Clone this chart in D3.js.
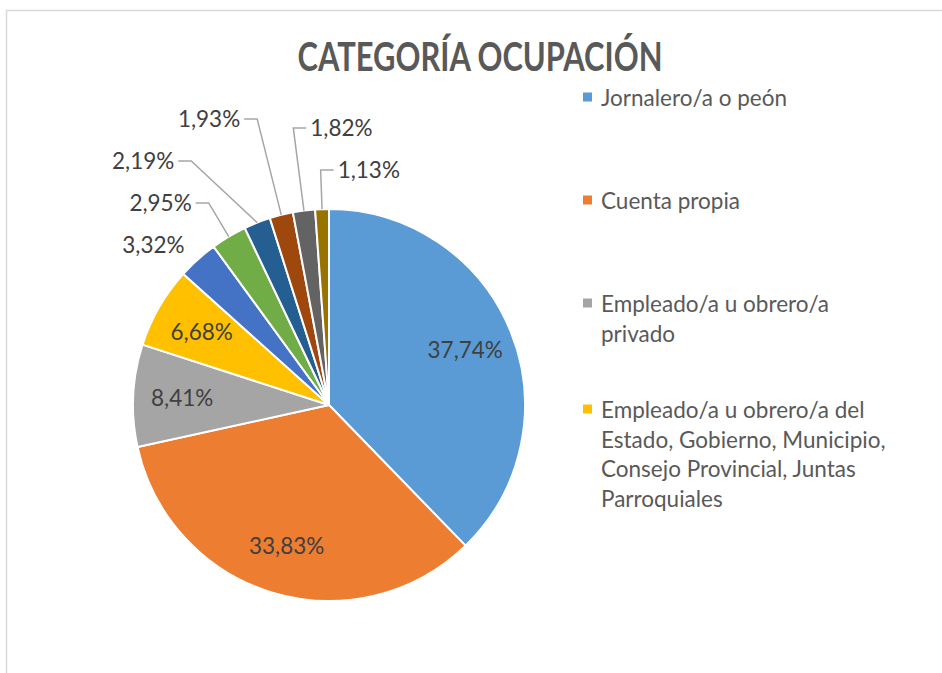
<!DOCTYPE html>
<html>
<head>
<meta charset="utf-8">
<script src="https://cdn.jsdelivr.net/npm/d3@7"></script>
<style>
  body { margin: 0; background: #fff; }
  svg { display: block; }
</style>
</head>
<body>
<div id="chart"></div>
<script>
// Datos
const title = "CATEGORÍA OCUPACIÓN";
const categories = [
  "Jornalero/a o peón",
  "Cuenta propia",
  "Empleado/a u obrero/a privado",
  "Empleado/a u obrero/a del Estado, Gobierno, Municipio, Consejo Provincial, Juntas Parroquiales",
  "Patrono/a",
  "Trabajador/a no remunerado",
  "Empleado/a doméstico/a",
  "Socio/a",
  "Se ignora",
  "No declarado"
];
const values = [37.74, 33.83, 8.41, 6.68, 3.32, 2.95, 2.19, 1.93, 1.82, 1.13];
const colors = ["#5B9BD5", "#ED7D31", "#A5A5A5", "#FFC000", "#4472C4",
                "#70AD47", "#255E91", "#9E480E", "#636363", "#997300"];
const legendCount = 4; // Excel solo muestra las primeras 4 entradas

const width = 942;
const height = 673;
const cx = 329, cy = 405, radius = 196;
const font = "Lato, 'Open Sans', sans-serif";
const fontSize = 22.5;

const svg = d3.select("#chart")
  .append("svg")
  .attr("width", width)
  .attr("height", height);

// marco del gráfico
svg.append("rect")
  .attr("x", 6.5).attr("y", 10.5)
  .attr("width", 1200).attr("height", 1200)
  .attr("fill", "#fff")
  .attr("stroke", "#d9d9d9")
  .attr("stroke-width", 1.5);

// título
svg.append("text")
  .attr("x", 480).attr("y", 71)
  .attr("text-anchor", "middle")
  .attr("font-family", "'Liberation Sans Narrow', Lato, sans-serif")
  .attr("font-weight", "bold")
  .attr("font-size", 41)
  .attr("fill", "#595959")
  .attr("textLength", 365)
  .attr("lengthAdjust", "spacingAndGlyphs")
  .text(title);

const locale = d3.formatLocale({ decimal: ",", thousands: ".", grouping: [3], currency: ["", ""] });
const fmt = v => locale.format(".2f")(v) + "%";

const color = d3.scaleOrdinal().domain(categories).range(colors);

const pie = d3.pie()
  .sort(null)
  .value(d => d.value);

const arc = d3.arc().innerRadius(0).outerRadius(radius);
const labelArc = d3.arc().innerRadius(radius * 0.5).outerRadius(radius);

const data_ready = pie(categories.map((c, i) => ({ name: c, value: values[i] })));

const g = svg.append("g").attr("transform", `translate(${cx}, ${cy})`);

g.selectAll("path")
  .data(data_ready)
  .join("path")
  .attr("d", arc)
  .attr("fill", d => color(d.data.name))
  .attr("stroke", "#fff")
  .attr("stroke-width", 2)
  .attr("stroke-linejoin", "round");

// etiquetas dentro
const inside = data_ready.filter(d => d.data.value >= 5);
g.selectAll("text.inside")
  .data(inside)
  .join("text")
  .attr("class", "inside")
  .attr("transform", d => `translate(${labelArc.centroid(d)})`)
  .attr("text-anchor", "middle")
  .attr("dominant-baseline", "central")
  .attr("font-family", font)
  .attr("font-size", fontSize)
  .attr("fill", "#404040")
  .text(d => fmt(d.data.value));

// etiquetas fuera (ajuste tipo "mejor ajuste")
const mid = d => (d.startAngle + d.endAngle) / 2;
const pointAt = (a, r) => [Math.sin(a) * r, -Math.cos(a) * r];
const labelGap = 42;
const farRadius = radius * 1.43;
const outside = data_ready.filter(d => d.data.value < 5);
const rightLimit = 2 * Math.PI - 10 * Math.PI / 180;
const rightSide = outside.filter(d => mid(d) > rightLimit).sort((a, b) => mid(b) - mid(a));
const leftSide = outside.filter(d => mid(d) <= rightLimit).sort((a, b) => mid(a) - mid(b));

function layoutSide(list, side) {
  let prevY = Infinity;
  const dir = side === "left" ? -1 : 1;
  list.forEach(d => {
    const a = mid(d);
    if (d.data.value >= 3) {
      // la porción es ancha: etiqueta al lado, sin línea guía
      const [x, y] = pointAt(a, radius * 1.1);
      d.label = { x: x, y: y, anchor: side === "left" ? "end" : "start", leader: null };
      prevY = y;
    } else {
      const [, yNat] = pointAt(a, radius * 1.2);
      const y = Math.min(yNat, prevY - labelGap);
      let x = -y * Math.tan(a);
      // a la izquierda, si se empujó hacia arriba, se abre sobre un círculo mayor
      if (side === "left" && y < yNat - 1 && Math.abs(y) < farRadius) {
        const xc = -Math.sqrt(farRadius * farRadius - y * y);
        x = Math.min(x, xc);
      }
      const start = pointAt(a, radius);
      const stubEnd = [x + dir * 13, y];
      d.label = {
        x: x + dir * 17, y: y,
        anchor: side === "left" ? "end" : "start",
        leader: [start, [x, y], stubEnd]
      };
      prevY = y;
    }
  });
}
layoutSide(leftSide, "left");
layoutSide(rightSide, "right");

const line = d3.line();
g.selectAll("path.leader")
  .data(outside.filter(d => d.label.leader))
  .join("path")
  .attr("class", "leader")
  .attr("d", d => line(d.label.leader))
  .attr("fill", "none")
  .attr("stroke", "#a6a6a6")
  .attr("stroke-width", 1.5);

g.selectAll("text.outside")
  .data(outside)
  .join("text")
  .attr("class", "outside")
  .attr("x", d => d.label.x)
  .attr("y", d => d.label.y)
  .attr("text-anchor", d => d.label.anchor)
  .attr("dominant-baseline", "central")
  .attr("font-family", font)
  .attr("font-size", fontSize)
  .attr("fill", "#404040")
  .text(d => fmt(d.data.value));

// leyenda
const legendX = 583, legendTextX = 601, legendTop = 97;
const lineH = 29.5, maxTextW = 295;

const legend = svg.append("g");
let yCursor = legendTop;
categories.slice(0, legendCount).forEach((name, i) => {
  const t = legend.append("text")
    .attr("font-family", font)
    .attr("font-size", fontSize)
    .attr("fill", "#595959")
    .attr("dominant-baseline", "central");
  // ajuste de línea por palabras
  const words = name.split(" ");
  let lines = [];
  let current = "";
  const probe = t.append("tspan").attr("x", legendTextX);
  words.forEach(w => {
    const test = current ? current + " " + w : w;
    probe.text(test);
    if (probe.node().getComputedTextLength() > maxTextW && current) {
      lines.push(current);
      current = w;
    } else {
      current = test;
    }
  });
  lines.push(current);
  probe.remove();
  lines.forEach((ln, k) => {
    t.append("tspan")
      .attr("x", legendTextX)
      .attr("y", yCursor + k * lineH)
      .text(ln);
  });
  legend.append("rect")
    .attr("x", legendX)
    .attr("y", yCursor - 4.5)
    .attr("width", 9).attr("height", 9)
    .attr("fill", color(name));
  yCursor += Math.max(103, lines.length * lineH + 47);
});
</script>
</body>
</html>
